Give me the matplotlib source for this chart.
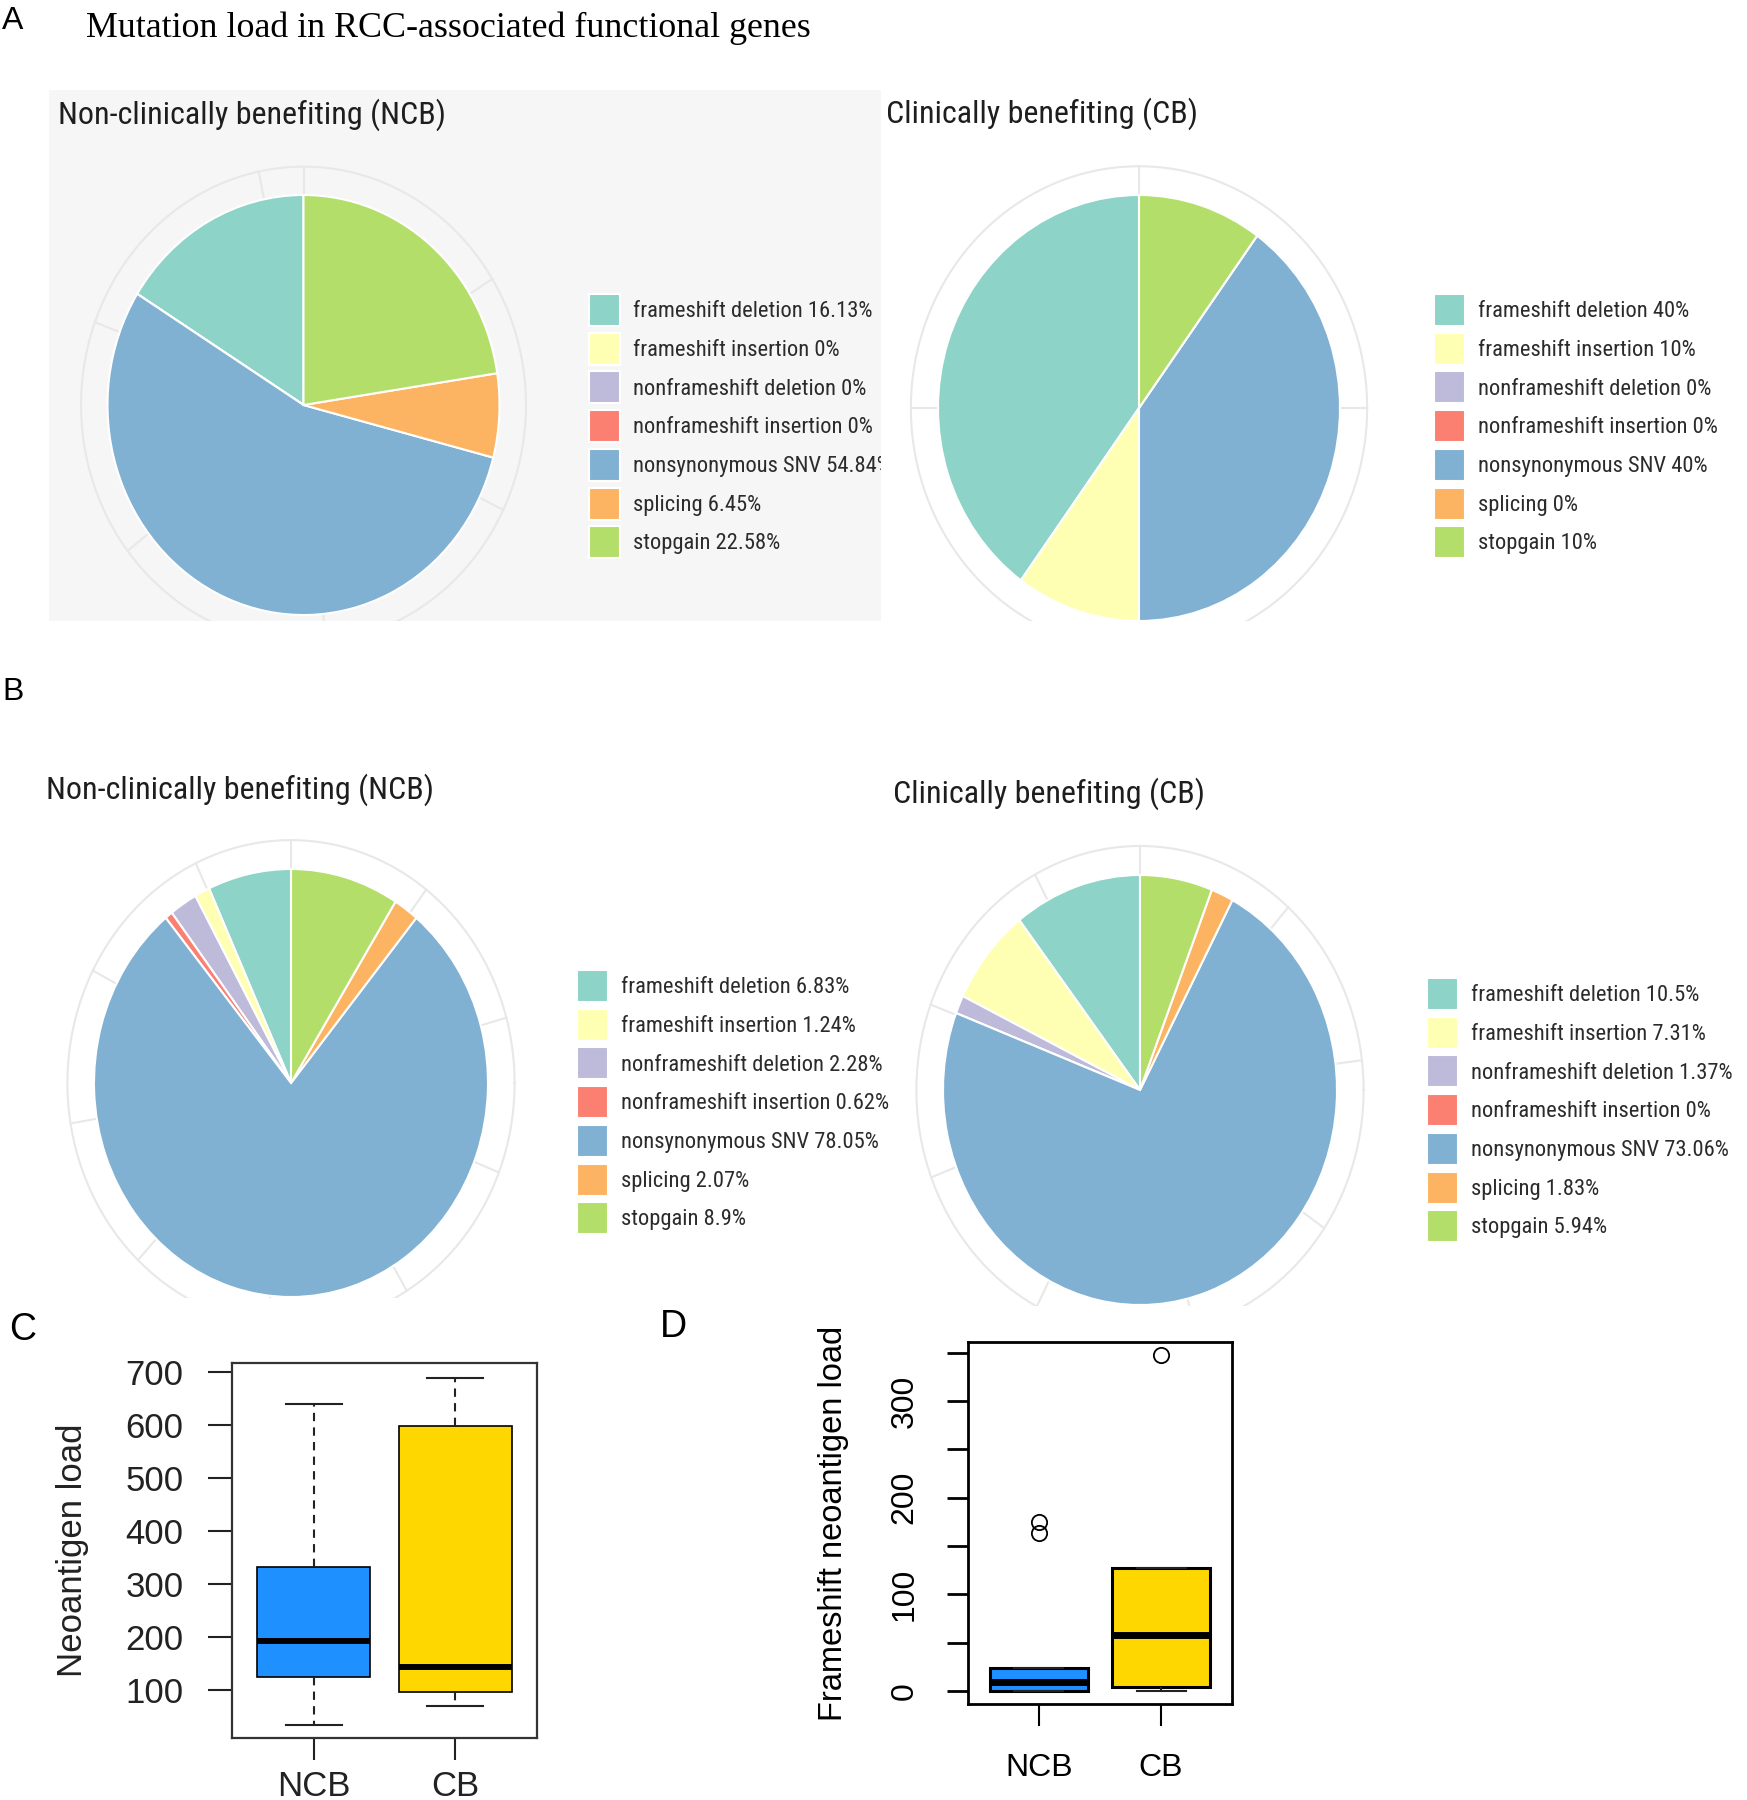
import numpy as np
import matplotlib
matplotlib.use("Agg")
import matplotlib.pyplot as plt
from matplotlib import font_manager

# ---- data ----
mut_types = ["frameshift deletion", "frameshift insertion", "nonframeshift deletion",
             "nonframeshift insertion", "nonsynonymous SNV", "splicing", "stopgain"]
set3 = ["#8dd3c7", "#ffffb3", "#bebada", "#fb8072", "#80b1d3", "#fdb462", "#b3de69"]

a_ncb_pct = [16.13, 0, 0, 0, 54.84, 6.45, 22.58]
a_cb_pct = [40, 10, 0, 0, 40, 0, 10]
b_ncb_pct = [6.83, 1.24, 2.28, 0.62, 78.05, 2.07, 8.9]
b_cb_pct = [10.5, 7.31, 1.37, 0, 73.06, 1.83, 5.94]

groups = ["NCB", "CB"]
box_colors = ["#1e90ff", "#ffd700"]
# neoantigen load (panel C)
neo_whislo = [34, 70]
neo_q1 = [125, 96]
neo_med = [192, 143]
neo_q3 = [332, 598]
neo_whishi = [640, 689]
neo_fliers = [[], []]
# frameshift neoantigen load (panel D)
fs_whislo = [0, 0]
fs_q1 = [0, 4]
fs_med = [9, 58]
fs_q3 = [24, 127]
fs_whishi = [24, 127]
fs_fliers = [[163, 175], [348]]

W, H = 1747, 1800
SANS = ["Liberation Sans", "DejaVu Sans"]
RING = 1.135

# the pie panels use a condensed sans; fall back to a smaller regular one
_names = {f.name for f in font_manager.fontManager.ttflist}
_narrow = [n for n in ["Liberation Sans Narrow", "Roboto Condensed", "Open Sans Condensed",
                       "Noto Sans Condensed", "Arial Narrow"] if n in _names]
if _narrow:
    NARROW = [_narrow[0]] + SANS
    LEG_FS, TITLE_FS = 16.2, 23
else:
    NARROW = SANS
    LEG_FS, TITLE_FS = 15.3, 21.3

fig = plt.figure(figsize=(W / 100, H / 100), dpi=100)


def px_axes(x0, y0, x1, y1):
    return fig.add_axes([x0 / W, 1 - y1 / H, (x1 - x0) / W, (y1 - y0) / H])


def ftext(x, y, s, **kw):
    fig.text(x / W, 1 - y / H, s, **kw)


def pie_panel(values, panel, center, radius, bg, title, title_xy, leg_xy, step):
    x0, y0, x1, y1 = panel
    cx, cy = center
    rx, ry = radius
    ax = px_axes(x0, y0, x1, y1)
    wedges, _ = ax.pie(values, colors=set3, startangle=90, counterclock=True,
                       wedgeprops=dict(edgecolor="white", linewidth=1.5))
    # polar grid ring with radial ticks
    t = np.linspace(0, 2 * np.pi, 400)
    ax.plot(RING * np.cos(t), RING * np.sin(t), color="#e8e8e8", lw=1.5, zorder=0)
    for a in np.arange(0, 359.9, step):
        phi = np.deg2rad(90 - a)
        ax.plot([0, RING * np.cos(phi)], [0, RING * np.sin(phi)],
                color="#e8e8e8", lw=1.5, zorder=0)
    ax.set_aspect("auto")
    ax.set_xlim((x0 - cx) / rx, (x1 - cx) / rx)
    ax.set_ylim((cy - y1) / ry, (cy - y0) / ry)
    ax.set_frame_on(True)
    ax.set_facecolor(bg)
    for s in ax.spines.values():
        s.set_visible(False)
    ax.set_xticks([])
    ax.set_yticks([])
    # legend geometry in pixels -> legend units
    fpx = LEG_FS * 100 / 72
    box_h = 32.0
    hh = (box_h / fpx - 0.245) / 0.65
    labels = [f"{n} {v:g}%" for n, v in zip(mut_types, values)]
    leg = ax.legend(wedges, labels, loc="upper left",
                    bbox_to_anchor=(leg_xy[0] / W, 1 - leg_xy[1] / H),
                    bbox_transform=fig.transFigure, frameon=False,
                    borderpad=0, borderaxespad=0, handlelength=31 / fpx,
                    handleheight=hh, labelspacing=(38.7 - box_h) / fpx,
                    handletextpad=13 / fpx,
                    prop=dict(family=NARROW, size=LEG_FS))
    for txt in leg.get_texts():
        txt.set_color("#2b2b2b")
        txt.set_clip_box(ax.bbox)
        txt.set_clip_on(True)
    ftext(title_xy[0], title_xy[1], title, family=NARROW, fontsize=TITLE_FS,
          color="#1e1e1e", va="baseline")
    return ax


ftext(2, 29, "A", family=SANS, fontsize=23, va="baseline")
ftext(86, 37, "Mutation load in RCC-associated functional genes",
      family=["Liberation Serif", "DejaVu Serif"], fontsize=25.8, va="baseline")

pie_panel(a_ncb_pct, (49, 90, 881, 621), (303.5, 405), (196, 210), "#f6f6f6",
          "Non-clinically benefiting (NCB)", (58, 124), (589, 294), 360 * 5 / 31)
pie_panel(a_cb_pct, (881, 90, 1747, 621), (1139, 408), (201, 213), "white",
          "Clinically benefiting (CB)", (886, 123), (1434, 294), 90)

ftext(2, 700, "B", family=SANS, fontsize=23, va="baseline")
pie_panel(b_ncb_pct, (30, 760, 893, 1298), (291, 1083), (197, 214), "white",
          "Non-clinically benefiting (NCB)", (46, 799), (577, 970), 37.2)
pie_panel(b_cb_pct, (893, 760, 1747, 1306), (1140, 1090), (197, 215), "white",
          "Clinically benefiting (CB)", (893, 803), (1427, 978), 41.5)


def box_panel(ax, whislo, q1, med, q3, whishi, fliers, box_lw, med_lw):
    stats = []
    for i in range(len(groups)):
        stats.append(dict(whislo=whislo[i], q1=q1[i], med=med[i], q3=q3[i],
                          whishi=whishi[i], fliers=fliers[i]))
    bp = ax.bxp(stats, positions=[1, 2], widths=0.8, capwidths=0.4,
                patch_artist=True, showfliers=True,
                boxprops=dict(linewidth=box_lw, edgecolor="black"),
                medianprops=dict(color="black", linewidth=med_lw,
                                 solid_capstyle="butt"),
                whiskerprops=dict(color="#222222", linewidth=1.5,
                                  linestyle=(0, (4, 3))),
                capprops=dict(color="#222222", linewidth=1.5),
                flierprops=dict(marker="o", markerfacecolor="none",
                                markeredgecolor="black", markersize=11,
                                markeredgewidth=1.3))
    for patch, c in zip(bp["boxes"], box_colors):
        patch.set_facecolor(c)
    ax.set_xlim(0.42, 2.58)
    ax.set_xticks([1, 2])
    ax.set_xticklabels(groups)


# panel C
ftext(9, 1340, "C", family=SANS, fontsize=27, va="baseline")
axc = px_axes(232, 1363, 537, 1738)
box_panel(axc, neo_whislo, neo_q1, neo_med, neo_q3, neo_whishi, neo_fliers, 1.2, 4.3)
axc.set_ylim(9.4, 717)
axc.set_yticks(range(100, 701, 100))
for s in axc.spines.values():
    s.set_linewidth(1.6)
    s.set_color("#333333")
axc.tick_params(axis="y", length=17, width=1.5, pad=18, labelsize=25, colors="#222222")
axc.tick_params(axis="x", length=16, width=1.5, pad=7, labelsize=25, colors="#222222")
for lab in axc.get_xticklabels() + axc.get_yticklabels():
    lab.set_family(SANS)
axc.set_ylabel("Neoantigen load", family=SANS, fontsize=25, color="#222222")
axc.yaxis.set_label_coords(-0.47, 0.5)

# panel D
ftext(660, 1337, "D", family=SANS, fontsize=27, va="baseline")
axd = px_axes(968, 1342, 1232, 1704)
box_panel(axd, fs_whislo, fs_q1, fs_med, fs_q3, fs_whishi, fs_fliers, 2.2, 5)
axd.set_ylim(-13.5, 361)
axd.set_yticks(range(0, 351, 50))
axd.set_yticklabels([str(v) if v % 100 == 0 else "" for v in range(0, 351, 50)])
for s in axd.spines.values():
    s.set_linewidth(2)
axd.tick_params(axis="y", length=15, width=2, pad=20, labelsize=23, labelrotation=90)
axd.tick_params(axis="x", length=16, width=1.5, pad=19, labelsize=23)
for lab in axd.get_yticklabels():
    lab.set_va("center")
for lab in axd.get_xticklabels() + axd.get_yticklabels():
    lab.set_family(SANS)
axd.set_ylabel("Frameshift neoantigen load", family=SANS, fontsize=23.5)
axd.yaxis.set_label_coords(-0.45, 0.5)

fig.savefig("out.png", dpi=100)
